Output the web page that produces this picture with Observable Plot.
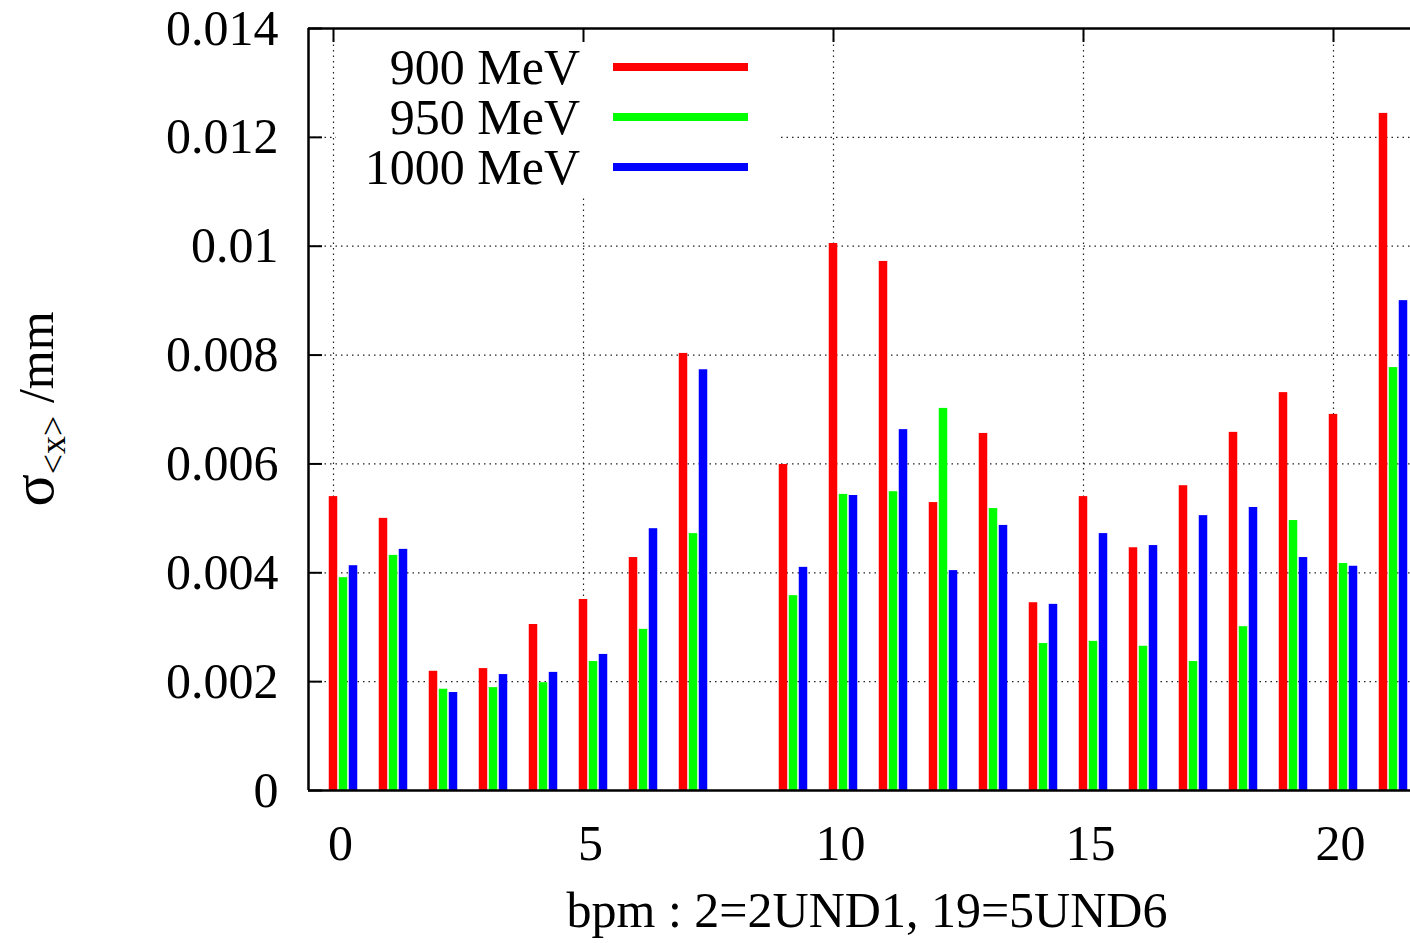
<!DOCTYPE html>
<html>
<head>
<meta charset="utf-8">
<script src="https://cdn.jsdelivr.net/npm/d3@7"></script>
<script src="https://cdn.jsdelivr.net/npm/@observablehq/plot@0.6"></script>
<style>
  html, body { margin: 0; padding: 0; background: white; }
  #chart { width: 1410px; height: 943px; }
</style>
</head>
<body>
<div id="chart"></div>
<script>
// ---- data ----
const bpm   = [0, 1, 2, 3, 4, 5, 6, 7, 9, 10, 11, 12, 13, 14, 15, 16, 17, 18, 19, 20, 21];
const e900  = [0.00540, 0.00500, 0.00219, 0.00224, 0.00305, 0.00351, 0.00428, 0.00803, 0.00599, 0.01005, 0.00972, 0.00529, 0.00656, 0.00345, 0.00540, 0.00446, 0.00560, 0.00658, 0.00731, 0.00691, 0.01244];
const e950  = [0.00391, 0.00432, 0.00186, 0.00189, 0.00198, 0.00237, 0.00296, 0.00472, 0.00358, 0.00544, 0.00549, 0.00702, 0.00518, 0.00270, 0.00274, 0.00265, 0.00237, 0.00301, 0.00496, 0.00417, 0.00777];
const e1000 = [0.00413, 0.00443, 0.00180, 0.00213, 0.00217, 0.00250, 0.00481, 0.00773, 0.00410, 0.00542, 0.00663, 0.00404, 0.00487, 0.00342, 0.00472, 0.00450, 0.00505, 0.00520, 0.00428, 0.00412, 0.00900];
const seriesNames = ["900 MeV", "950 MeV", "1000 MeV"];
const seriesValues = [e900, e950, e1000];
const yTicks = [0, 0.002, 0.004, 0.006, 0.008, 0.010, 0.012, 0.014];
const yTickLabels = ["0", "0.002", "0.004", "0.006", "0.008", "0.01", "0.012", "0.014"];
const xTicks = [0, 5, 10, 15, 20];
const xLabel = "bpm : 2=2UND1, 19=5UND6";

// ---- styling ----
const colors = ["#ff0000", "#00ff00", "#0000ff"];
const offsets = [0, 0.2, 0.4];
const halfW = 0.085;
const W = 1410, H = 943, mL = 308, mR = 0, mT = 28, mB = 153;
const plotW = W - mL - mR, plotH = H - mT - mB;
const font = "'Liberation Serif', 'Times New Roman', serif";
const grid = {stroke: "#222", strokeWidth: 1.2, strokeDasharray: "1.5,4"};

const rows = [];
seriesNames.forEach((s, k) => bpm.forEach((b, i) => rows.push({series: s, k, bpm: b, value: seriesValues[k][i]})));

function legendMark(index, scales, values, dims) {
  const g = d3.create("svg:g");
  g.append("rect").attr("x", mL + 28).attr("y", mT + 2).attr("width", 442).attr("height", 165).attr("fill", "white");
  seriesNames.forEach((s, k) => {
    const yb = 84 + k * 50;
    g.append("text").attr("x", 580).attr("y", yb).attr("text-anchor", "end")
      .attr("font-family", font).attr("font-size", 50).attr("fill", "black").text(s);
    g.append("line").attr("x1", 613).attr("x2", 748).attr("y1", yb - 17).attr("y2", yb - 17)
      .attr("stroke", colors[k]).attr("stroke-width", 8);
  });
  return g.node();
}

const svg = Plot.plot({
  width: W, height: H,
  marginLeft: mL, marginRight: mR, marginTop: mT, marginBottom: mB,
  x: {domain: [-0.5, 21.54]},
  y: {domain: [0, 0.014]},
  style: {fontFamily: font, fontSize: "50px", color: "black", background: "white", overflow: "visible"},
  marks: [
    Plot.ruleY(yTicks.slice(1, -1), grid),
    Plot.ruleX(xTicks, grid),
    legendMark,
    Plot.tickY(yTicks, {y: d => d, stroke: "black", strokeWidth: 2, insetRight: plotW - 14}),
    Plot.tickX(xTicks, {x: d => d, stroke: "black", strokeWidth: 2, insetBottom: plotH - 14}),
    Plot.tickX(xTicks, {x: d => d, stroke: "black", strokeWidth: 2, insetTop: plotH - 14}),
    ...seriesNames.map((s, k) => Plot.rectY(rows.filter(r => r.k === k), {
      x1: d => d.bpm + offsets[k] - halfW,
      x2: d => d.bpm + offsets[k] + halfW,
      y: "value",
      fill: colors[k]
    })),
    Plot.ruleY([0, 0.014], {stroke: "black", strokeWidth: 2.5}),
    Plot.ruleX([-0.5], {stroke: "black", strokeWidth: 2.5}),
    Plot.axisY({ticks: yTicks, tickSize: 0, tickPadding: 30, tickFormat: d => yTickLabels[yTicks.indexOf(d)], label: null, fontSize: 50}),
    Plot.axisX({ticks: xTicks, tickSize: 0, tickPadding: 34, dx: 7, label: null, fontSize: 50})
  ]
});

const s = d3.select(svg);
// y-axis label with subscript
const yl = s.append("text")
  .attr("transform", "translate(53,409) rotate(-90)")
  .attr("text-anchor", "middle")
  .attr("font-family", font).attr("font-size", 50).attr("fill", "black");
yl.append("tspan").attr("font-size", 60).text("σ");
yl.append("tspan").attr("font-size", 36).attr("dy", 12).text("<x>");
yl.append("tspan").attr("dy", -12).text(" /mm");
// x-axis label
s.append("text")
  .attr("x", 867).attr("y", 927)
  .attr("text-anchor", "middle")
  .attr("font-family", font).attr("font-size", 50).attr("fill", "black")
  .text(xLabel);

document.getElementById("chart").appendChild(svg);
</script>
</body>
</html>
